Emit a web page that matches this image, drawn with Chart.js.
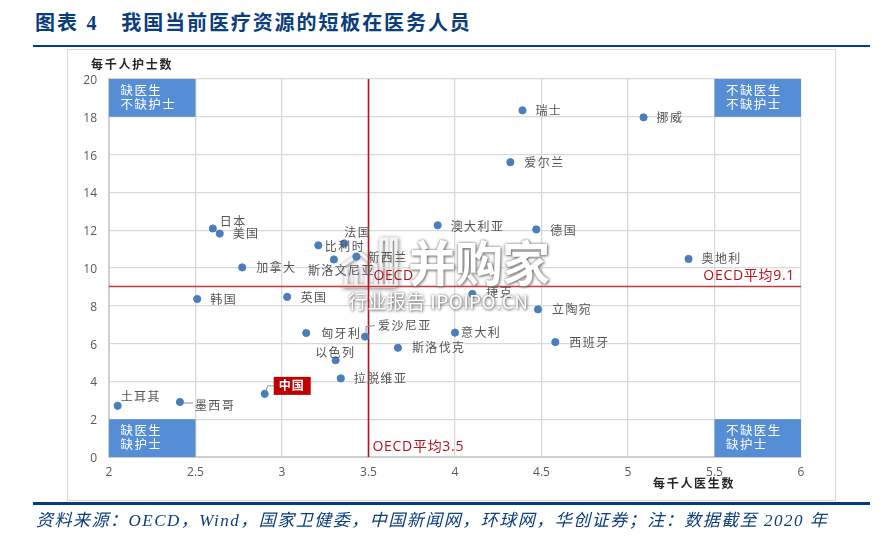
<!DOCTYPE html>
<html>
<head>
<meta charset="utf-8">
<script src="https://cdn.jsdelivr.net/npm/chart.js@4"></script>
<style>
  html, body { margin: 0; padding: 0; background: #fff; }
  body { width: 889px; height: 541px; position: relative; overflow: hidden; }
  canvas { position: absolute; left: 0; top: 0; }
  .title { position: absolute; left: 35px; top: 9px; font: bold 20px/28px "Liberation Serif", "Noto Sans CJK SC"; letter-spacing: 1.9px; word-spacing: 0.75px; color: #0b3c7c; white-space: pre; }
  .rule { position: absolute; left: 33px; width: 837px; background: #003d84; }
  .frame { position: absolute; left: 67px; top: 49px; width: 767px; height: 450px; border: 1px solid #d9d9d9; }
  .source { position: absolute; left: 36px; top: 509px; font: italic 17px/24px "Liberation Serif", "Noto Sans CJK SC"; letter-spacing: 1.5px; color: #0b3c7c; white-space: pre; }
  .wm { position: absolute; color: #fff; white-space: pre; font-family: "Noto Sans CJK SC"; text-shadow: 0 0 3px #777, 1px 1px 3px #777; }
</style>
</head>
<body>
<div class="title">图表 4   我国当前医疗资源的短板在医务人员</div>
<div class="rule" style="top:45px;height:2px"></div>
<div class="frame"></div>
<svg style="position:absolute;left:340px;top:236px" width="60" height="56" fill="none" stroke="#f4f4f4" stroke-width="3.5" filter="drop-shadow(1px 1px 2px #777)"><path d="M1 31 L20 17 L37 31 M6 31 V50 M16 31 V50 M26 31 V50 M36 31 V50 M2 50 H56 M41 50 V3 H47 V50 M51 50 V3 H56 V50"/></svg>
<canvas id="chart" width="889" height="541"></canvas>
<div class="wm" style="left:408px;top:224px;font-size:48px;line-height:72px;font-weight:700;letter-spacing:-1px">并购家</div>
<div class="wm" style="left:348px;top:288px;font-size:19px;line-height:26px;letter-spacing:.4px">行业报告 IPOIPO.CN</div>
<div class="rule" style="top:502px;height:3px"></div>
<div class="source">资料来源：OECD，Wind，国家卫健委，中国新闻网，环球网，华创证券；注：数据截至 2020 年</div>

<script>
const countries = ['瑞士', '挪威', '爱尔兰', '澳大利亚', '德国', '奥地利', '日本', '美国', '比利时', '法国', '新西兰', '斯洛文尼亚', '加拿大', '韩国', '英国', '捷克', '立陶宛', '匈牙利', '爱沙尼亚', '意大利', '西班牙', '斯洛伐克', '以色列', '拉脱维亚', '中国', '墨西哥', '土耳其']
const doctors = [4.39, 5.09, 4.32, 3.90, 4.47, 5.35, 2.60, 2.64, 3.21, 3.36, 3.43, 3.30, 2.77, 2.51, 3.03, 4.10, 4.48, 3.14, 3.48, 4.00, 4.58, 3.67, 3.31, 3.34, 2.90, 2.41, 2.05]
const nurses = [18.34, 17.97, 15.60, 12.26, 12.04, 10.48, 12.09, 11.82, 11.20, 11.30, 10.60, 10.45, 10.03, 8.36, 8.47, 8.63, 7.81, 6.56, 6.37, 6.58, 6.08, 5.78, 5.12, 4.16, 3.34, 2.91, 2.71]
// the red lines as they sit on the picture; the nurse line reads 9.0 though its caption says 9.1
const oecdDoctorsLine = 3.5
const oecdNursesLine = 9.02
const oecdDoctorsCaption = 'OECD平均3.5'
const oecdNursesCaption = 'OECD平均9.1'
const xRange = [2, 6]
const yRange = [0, 20]

const quadrantNames = [['缺医生', '不缺护士'], ['不缺医生', '不缺护士'], ['缺医生', '缺护士'], ['不缺医生', '缺护士']]
const quadrantX = [[2, 2.5], [5.5, 6], [2, 2.5], [5.5, 6]]
const quadrantY = [[18, 20], [18, 20], [0, 2], [0, 2]]

// label offset from its point, px
const labelOffset = {
  '瑞士': [13, 0], '挪威': [13, 0], '爱尔兰': [14, 0], '澳大利亚': [13, 1], '德国': [14, 0.5], '奥地利': [13, 0],
  '日本': [7, -7], '美国': [13, 0], '比利时': [6.5, 1], '法国': [0, -11], '新西兰': [11, 0.5], '斯洛文尼亚': [-26, 10.5],
  '加拿大': [14, 0], '韩国': [13, 0], '英国': [13.5, 1], '捷克': [14, -1], '立陶宛': [14, 0.5], '匈牙利': [15, 0],
  '爱沙尼亚': [13, -11], '意大利': [6, 0], '西班牙': [14, 0], '斯洛伐克': [14, 0], '以色列': [-20.5, -8], '拉脱维亚': [13, 0],
  '墨西哥': [15, 3], '土耳其': [3, -9.5]
}
// small leader lines next to some points
const leaders = { '爱沙尼亚': [[1, -4], [1, -10], [10, -11]], '墨西哥': [[4, 1], [13, 1]], '中国': [[1, -3], [3, -8], [9, -8]] }

const annotations = {
  id: 'annotations',
  beforeDatasetsDraw(chart) {
    const { ctx, scales: { x, y } } = chart
    ctx.save()
    ctx.fillStyle = '#558ed5'
    quadrantNames.forEach((lines, i) => {
      const left = x.getPixelForValue(quadrantX[i][0])
      const right = x.getPixelForValue(quadrantX[i][1])
      const top = y.getPixelForValue(quadrantY[i][1])
      const bottom = y.getPixelForValue(quadrantY[i][0])
      ctx.fillRect(left, top, right - left, bottom - top)
    })
    ctx.restore()
  },
  afterDatasetsDraw(chart) {
    const { ctx, scales: { x, y } } = chart
    const pts = chart.getDatasetMeta(0).data
    ctx.save()
    ctx.textBaseline = 'middle'

    // quadrant captions
    ctx.font = '12.5px "Noto Sans CJK SC"'
    ctx.letterSpacing = '1.4px'
    ctx.fillStyle = '#fff'
    quadrantNames.forEach((lines, i) => {
      const left = x.getPixelForValue(quadrantX[i][0]) + 11.5
      const top = y.getPixelForValue(quadrantY[i][1])
      lines.forEach((t, j) => ctx.fillText(t, left, top + 11.5 + j * 14))
    })

    // leaders
    ctx.strokeStyle = '#8c8c8c'
    ctx.lineWidth = 1
    countries.forEach((name, i) => {
      if (!leaders[name]) return
      ctx.beginPath()
      leaders[name].forEach((p, j) => {
        if (j === 0) ctx.moveTo(pts[i].x + p[0], pts[i].y + p[1])
        else ctx.lineTo(pts[i].x + p[0], pts[i].y + p[1])
      })
      ctx.stroke()
    })

    // country labels
    ctx.font = '12px "Noto Sans CJK SC"'
    ctx.letterSpacing = '1.4px'
    ctx.fillStyle = '#555'
    countries.forEach((name, i) => {
      if (!labelOffset[name]) return
      ctx.fillText(name, pts[i].x + labelOffset[name][0], pts[i].y + labelOffset[name][1])
    })

    // China gets the red tag
    const cn = pts[countries.indexOf('中国')]
    ctx.fillStyle = '#c00000'
    ctx.fillRect(cn.x + 9, cn.y - 17, 37, 18)
    ctx.fillStyle = '#fff'
    ctx.font = 'bold 12px "Noto Sans CJK SC"'
    ctx.letterSpacing = '1px'
    ctx.fillText('中国', cn.x + 14, cn.y - 8)

    // averages
    ctx.font = '14px "Open Sans", "Noto Sans CJK SC"'
    ctx.letterSpacing = '0.7px'
    ctx.fillStyle = '#b5121b'
    const avgY = y.getPixelForValue(oecdNursesLine)
    const avgX = x.getPixelForValue(oecdDoctorsLine)
    ctx.textAlign = 'right'
    ctx.fillText(oecdNursesCaption, x.right - 6, avgY - 10.5)
    ctx.textAlign = 'left'
    ctx.fillText('OECD', avgX + 5, avgY - 10.5)
    ctx.fillText(oecdDoctorsCaption, avgX + 4, y.bottom - 9.5)

    // axis names
    ctx.font = 'bold 12px "Noto Sans CJK SC"'
    ctx.letterSpacing = '1.7px'
    ctx.fillStyle = '#262626'
    ctx.fillText('每千人护士数', 91, y.top - 15)
    ctx.fillText('每千人医生数', 653, y.bottom + 26)
    ctx.restore()
  }
}

new Chart(document.getElementById('chart'), {
  type: 'scatter',
  data: {
    datasets: [
      {
        label: '每千人',
        data: doctors.map((d, i) => ({ x: d, y: nurses[i] })),
        backgroundColor: '#4a7ebb',
        borderColor: '#4a7ebb',
        pointRadius: 3.6,
        order: 0
      },
      {
        label: 'OECD平均医生',
        data: yRange.map(v => ({ x: oecdDoctorsLine, y: v })),
        showLine: true,
        borderColor: '#b5121b',
        borderWidth: 1.6,
        pointRadius: 0,
        order: 1
      },
      {
        label: 'OECD平均护士',
        data: xRange.map(v => ({ x: v, y: oecdNursesLine })),
        showLine: true,
        borderColor: '#c4393d',
        borderWidth: 1.4,
        pointRadius: 0,
        order: 1
      }
    ]
  },
  options: {
    responsive: false,
    animation: false,
    devicePixelRatio: 1,
    layout: { padding: { left: 69, top: 79, right: 88, bottom: 54 } },
    plugins: { legend: { display: false }, tooltip: { enabled: false }, title: { display: false } },
    scales: {
      x: {
        type: 'linear',
        min: xRange[0],
        max: xRange[1],
        afterFit: s => { s.height = 30 },
        ticks: { stepSize: 0.5, color: '#595959', font: { family: '"Open Sans"', size: 12 }, maxRotation: 0, padding: 8, callback: v => String(v) },
        grid: { color: '#d9d9d9', lineWidth: 1.3, drawTicks: false },
        border: { color: '#cfcfcf', width: 2 }
      },
      y: {
        min: yRange[0],
        max: yRange[1],
        afterFit: s => { s.width = 40 },
        ticks: { stepSize: 2, color: '#595959', font: { family: '"Open Sans"', size: 12 }, padding: 12, labelOffset: 1.5 },
        grid: { color: '#d9d9d9', lineWidth: 1.3, drawTicks: false },
        border: { color: '#cfcfcf', width: 2 }
      }
    }
  },
  plugins: [annotations]
})
</script>
</body>
</html>
